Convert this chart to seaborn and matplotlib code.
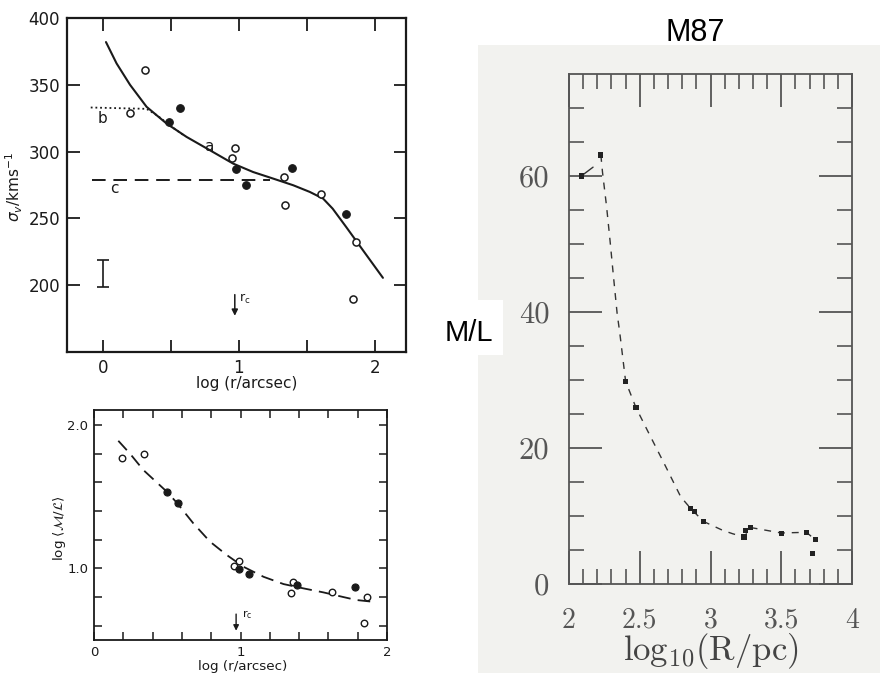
import matplotlib
matplotlib.use("Agg")
import matplotlib.pyplot as plt
from matplotlib.patches import Rectangle
import seaborn as sns
import numpy as np

sns.set_style("ticks")
plt.rcParams['font.family'] = ['DejaVu Sans']

# ---- top left: velocity dispersion profile
sig_open_x = [0.31, 0.196, 0.975, 0.95, 1.33, 1.34, 1.605, 1.86, 1.84]
sig_open_y = [361, 329, 302.5, 295, 281, 260, 268, 232, 190]
sig_fill_x = [0.564, 0.485, 0.98, 1.054, 1.39, 1.79]
sig_fill_y = [333, 322.5, 287, 275, 288, 253]
sig_fit_x = [0.022, 0.10, 0.199, 0.321, 0.468, 0.615, 0.787, 0.958, 1.105, 1.252,
             1.40, 1.522, 1.62, 1.69, 1.79, 1.914, 2.06]
sig_fit_y = [382, 366, 350, 333.5, 321, 311, 301, 291, 284.7, 279.8,
             274.8, 269.8, 264.8, 257.3, 243.5, 226, 205.5]
b_x = [-0.09, 0.32, 0.40, 0.50, 0.59]
b_y = [333, 332, 327, 319, 312.5]
c_x = [-0.08, 1.23]
c_y = [279, 279]
err_x, err_lo, err_hi = 0.0, 199, 219
sig_yticks = [200, 250, 300, 350, 400]
sig_xticks = [0, 0.5, 1, 1.5, 2]
sig_xlabels = ['0', '', '1', '', '2']

# ---- bottom left: mass-to-light profile
ml_open_x = [0.194, 0.34, 0.958, 0.987, 1.357, 1.343, 1.624, 1.863, 1.84]
ml_open_y = [1.772, 1.80, 1.016, 1.049, 0.902, 0.826, 0.837, 0.798, 0.621]
ml_fill_x = [0.50, 0.57, 0.992, 1.06, 1.384, 1.78]
ml_fill_y = [1.533, 1.456, 0.995, 0.958, 0.884, 0.872]
ml_fit_x = [0.166, 0.246, 0.337, 0.497, 0.565, 0.678, 0.792, 0.906, 1.02, 1.157,
            1.294, 1.43, 1.566, 1.70, 1.79, 1.89]
ml_fit_y = [1.89, 1.80, 1.686, 1.535, 1.458, 1.314, 1.186, 1.093, 1.011, 0.941,
            0.89, 0.86, 0.832, 0.80, 0.779, 0.768]
rc_x = 0.97

# ---- right: M87
m87_x = [2.087, 2.225, 2.40, 2.474, 2.86, 2.885, 2.95, 3.237, 3.25, 3.284,
         3.50, 3.678, 3.74, 3.72]
m87_y = [60, 63.1, 29.8, 25.9, 11.1, 10.7, 9.2, 6.9, 7.9, 8.3,
         7.4, 7.6, 6.5, 4.5]
m87_fit_x = [2.225, 2.237, 2.265, 2.289, 2.312, 2.34, 2.359, 2.40, 2.474, 2.556,
             2.685, 2.79, 2.86, 2.95, 3.085, 3.155, 3.237, 3.284, 3.5, 3.678, 3.74]
m87_fit_y = [63.1, 60.5, 55.6, 50.7, 45.7, 39.8, 36.9, 29.8, 25.9, 22.5,
             17.2, 12.8, 11.1, 9.2, 7.9, 7.4, 6.9, 8.3, 7.5, 7.6, 6.5]
seg_x = [2.087, 2.17]
seg_y = [60, 61.3]
m87_xticks = [2, 2.5, 3, 3.5, 4]
m87_xlabels = ['2', '2.5', '3', '3.5', '4']
m87_yticks = [0, 20, 40, 60]

INK = '#1a1a1a'
SCAN = '#f2f2ef'
GREY = '#555555'

fig = plt.figure(figsize=(8.8, 6.77), dpi=100)
fig.patch.set_facecolor('white')

# scanned page background for the right panel
fig.add_artist(Rectangle((0.5432, 0.0059), 0.4568, 0.9276, transform=fig.transFigure,
                         facecolor=SCAN, edgecolor='none', zorder=0))
fig.add_artist(Rectangle((0.50, 0.4756), 0.0716, 0.0813, transform=fig.transFigure,
                         facecolor='white', edgecolor='none', zorder=1))

# ================= panel 1
ax1 = fig.add_axes([0.0761, 0.4801, 0.3853, 0.4933])
sns.lineplot(x=sig_fit_x, y=sig_fit_y, ax=ax1, color=INK, lw=1.5, sort=False, estimator=None)
sns.lineplot(x=b_x, y=b_y, ax=ax1, color=INK, lw=1.3, linestyle=(0, (1, 1.6)),
             sort=False, estimator=None)
sns.lineplot(x=c_x, y=c_y, ax=ax1, color=INK, lw=1.4, linestyle=(0, (7, 4)),
             sort=False, estimator=None)
sns.scatterplot(x=sig_open_x, y=sig_open_y, ax=ax1, s=26, color='white',
                edgecolor=INK, linewidth=1.1, zorder=4)
sns.scatterplot(x=sig_fill_x, y=sig_fill_y, ax=ax1, s=30, color=INK,
                edgecolor=INK, linewidth=0.8, zorder=4)
ax1.errorbar([err_x], [(err_lo + err_hi) / 2], yerr=[(err_hi - err_lo) / 2],
             fmt='none', ecolor=INK, elinewidth=1.2, capsize=4, capthick=1.2)
ax1.text(-0.005, 325, 'b', fontsize=11, color=INK, ha='center', va='center')
ax1.text(0.086, 272.5, 'c', fontsize=11, color=INK, ha='center', va='center')
ax1.text(0.78, 304, 'a', fontsize=11, color=INK, ha='center', va='center')
ax1.annotate('', xy=(0.97, 175), xytext=(0.97, 195),
             arrowprops=dict(arrowstyle='-|>', color=INK, lw=1.1, mutation_scale=9))
ax1.text(1.0, 190, r'$\mathrm{r_c}$', fontsize=9, color=INK, ha='left', va='center')

ax1.set_xlim(-0.265, 2.23)
ax1.set_ylim(150, 400)
ax1.set_yticks(sig_yticks)
ax1.set_xticks(sig_xticks, labels=sig_xlabels)
ax1.tick_params(direction='in', length=9, width=1.3, top=True, right=True,
                labelsize=12, pad=5, colors=INK)
for s in ax1.spines.values():
    s.set_linewidth(1.6)
    s.set_color(INK)
ax1.set_xlabel('log (r/arcsec)', fontsize=11, color=INK)
ax1.xaxis.set_label_coords(0.531, -0.073)
ax1.set_ylabel(r'$\sigma_v$/kms$^{-1}$', fontsize=11, color=INK)
ax1.yaxis.set_label_coords(-0.125, 0.494)

# ================= panel 2
ax2 = fig.add_axes([0.1068, 0.0547, 0.3330, 0.3397])
sns.lineplot(x=ml_fit_x, y=ml_fit_y, ax=ax2, color=INK, lw=1.3, linestyle=(0, (7, 4)),
             sort=False, estimator=None)
sns.scatterplot(x=ml_open_x, y=ml_open_y, ax=ax2, s=22, color='white',
                edgecolor=INK, linewidth=1.0, zorder=4)
sns.scatterplot(x=ml_fill_x, y=ml_fill_y, ax=ax2, s=26, color=INK,
                edgecolor=INK, linewidth=0.8, zorder=4)
ax2.annotate('', xy=(rc_x, 0.545), xytext=(rc_x, 0.70),
             arrowprops=dict(arrowstyle='-|>', color=INK, lw=1.0, mutation_scale=8))
ax2.text(rc_x + 0.04, 0.674, r'$\mathrm{r_c}$', fontsize=8, color=INK, ha='left', va='center')

ax2.set_xlim(0, 2)
ax2.set_ylim(0.5, 2.105)
xt2 = np.round(np.arange(0, 2.01, 0.2), 1)
ax2.set_xticks(xt2, labels=['0' if v == 0 else '1' if v == 1 else '2' if v == 2 else '' for v in xt2])
yt2 = np.round(np.arange(0.6, 2.01, 0.2), 1)
ax2.set_yticks(yt2, labels=['1.0' if v == 1 else '2.0' if v == 2 else '' for v in yt2])
ax2.tick_params(direction='in', length=6, width=1.1, top=True, right=True,
                labelsize=9.5, pad=4, colors=INK)
for s in ax2.spines.values():
    s.set_linewidth(1.3)
    s.set_color(INK)
ax2.set_xlabel('log (r/arcsec)', fontsize=9.7, color=INK)
ax2.xaxis.set_label_coords(0.508, -0.085)
ax2.set_ylabel(r'log $\langle\mathcal{M}/\mathcal{L}\rangle$', fontsize=9.7, color=INK)
ax2.yaxis.set_label_coords(-0.09, 0.487)

# ================= panel 3
ax3 = fig.add_axes([0.6466, 0.1374, 0.3216, 0.7533])
ax3.patch.set_alpha(0)
sns.lineplot(x=m87_fit_x, y=m87_fit_y, ax=ax3, color='#333333', lw=1.0,
             linestyle=(0, (5, 5)), sort=False, estimator=None)
sns.lineplot(x=seg_x, y=seg_y, ax=ax3, color='#333333', lw=1.0, sort=False, estimator=None)
sns.scatterplot(x=m87_x, y=m87_y, ax=ax3, marker='s', s=14, color='#222222',
                edgecolor='none', zorder=4)

ax3.set_xlim(2, 4)
ax3.set_ylim(0, 75)
ax3.set_xticks(m87_xticks, labels=m87_xlabels, fontfamily='cmr10', fontsize=20, color=GREY)
ax3.set_xticks(np.round(np.arange(2.1, 4.0, 0.1), 1), minor=True)
ax3.set_yticks(m87_yticks, labels=[str(v) for v in m87_yticks], fontfamily='cmr10',
               fontsize=22, color=GREY)
ax3.set_yticks(np.arange(5, 75, 5), minor=True)
ax3.tick_params(which='major', direction='in', length=24, width=1.3, top=True, right=True,
                color=GREY)
ax3.tick_params(axis='x', which='major', pad=17)
ax3.tick_params(axis='y', which='major', pad=14)
ax3.tick_params(which='minor', direction='in', length=11, width=1.2, top=True, right=True,
                color=GREY)
for s in ax3.spines.values():
    s.set_linewidth(1.3)
    s.set_color(GREY)
ax3.set_xlabel(r'$\mathrm{log_{10}(R/pc)}$', fontsize=25, color='#444444', math_fontfamily='cm')
ax3.xaxis.set_label_coords(0.5, -0.093)
ax3.set_ylabel('')

fig.text(0.790, 0.951, 'M87', ha='center', va='center', fontsize=22,
         family='Liberation Sans', color='black')
fig.text(0.533, 0.508, 'M/L', ha='center', va='center', fontsize=21,
         family='Liberation Sans', color='black', zorder=3)

fig.savefig('out.png', dpi=100)
